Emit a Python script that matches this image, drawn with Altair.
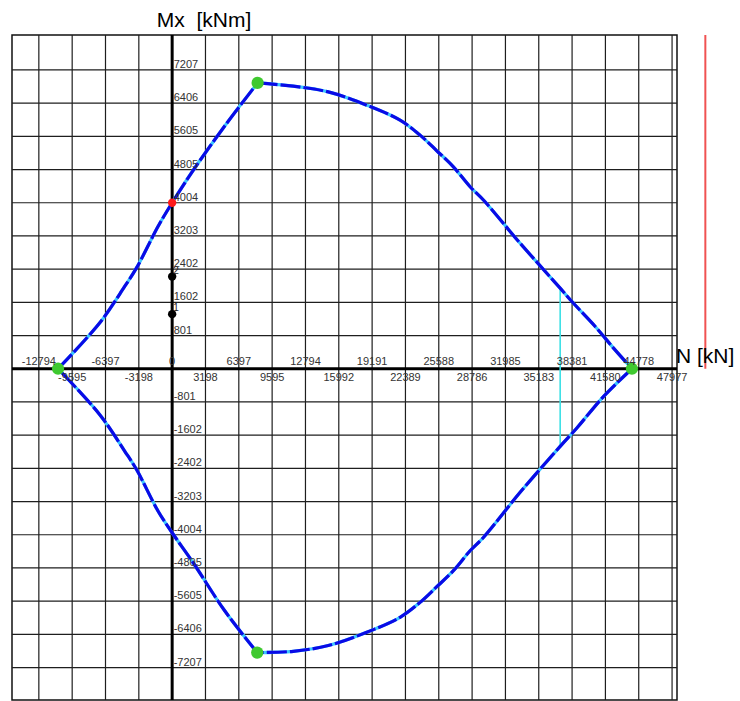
import altair as alt
import pandas as pd

# Interaction diagram N - Mx (N in kN, Mx in kNm)

# Grid / tick values
n_ticks = [-12794, -9595, -6397, -3198, 0, 3198, 6397, 9595, 12794, 15992,
           19191, 22389, 25588, 28786, 31985, 35183, 38381, 41580, 44778, 47977]
n_tick_labels = ["-12794", "-9595", "-6397", "-3198", "0", "3198", "6397", "9595",
                 "12794", "15992", "19191", "22389", "25588", "28786", "31985",
                 "35183", "38381", "41580", "44778", "47977"]
m_ticks = [-7207, -6406, -5605, -4805, -4004, -3203, -2402, -1602, -801,
           801, 1602, 2402, 3203, 4004, 4805, 5605, 6406, 7207]
m_tick_labels = ["-7207", "-6406", "-5605", "-4805", "-4004", "-3203", "-2402",
                 "-1602", "-801", "801", "1602", "2402", "3203", "4004", "4805",
                 "5605", "6406", "7207"]

# Resistance curve, split at its four corner points
# upper-left flank: left apex -> top peak
ul_n = [-10950, -6944, -4543, -3419, -1345, 0, 1921, 5225, 8203]
ul_m = [0, 1108, 1991, 2432, 3436, 4004, 4751, 5917, 6894]
# upper-right: top peak -> right apex
ur_n = [8203, 11622, 14984, 18672, 21871, 23792, 25396, 26990, 28594, 29872,
        33396, 37239, 38362, 40600, 42358, 44126]
ur_m = [6894, 6815, 6677, 6357, 5996, 5635, 5257, 4871, 4390, 4070,
        3027, 1943, 1621, 1019, 498, 0]
# lower-right: right apex -> bottom peak
lr_n = [44126, 41411, 38842, 37239, 33396, 29872, 28594, 26990, 25396, 23792,
        21871, 18672, 14984, 11622, 8164]
lr_m = [0, -667, -1428, -1871, -2980, -4070, -4390, -4871, -5257, -5635,
        -5996, -6357, -6677, -6815, -6846]
# lower-left flank: bottom peak -> left apex
ll_n = [8164, 5062, 2017, 0, -1345, -3419, -4543, -6944, -10950]
ll_m = [-6846, -5844, -4679, -3956, -3436, -2432, -1991, -1108, 0]

# Corner points of the curve
apex_n = [-10950, 8203, 44126, 8164]
apex_m = [0, 6894, 0, -6846]

# Load cases
red_n, red_m = [0], [4004]
case_n = [0, 0]
case_m = [1317, 2223]
case_labels = ["1", "2"]

# Vertical check line and limit line
check_n = [37239]
check_m_lo = [-1890]
check_m_hi = [1943]
limit_n = [51170]
limit_m_lo = [0]
limit_m_hi = [8050]

N_DOMAIN = [-15370, 48450]
M_DOMAIN = [-7990, 8050]

xs = alt.Scale(domain=N_DOMAIN, nice=False, zero=False)
ys = alt.Scale(domain=M_DOMAIN, nice=False, zero=False)

rows = []
for seg, ns, ms in (("ul", ul_n, ul_m), ("ur", ur_n, ur_m),
                    ("lr", lr_n, lr_m), ("ll", ll_n, ll_m)):
    for i, (n, m) in enumerate(zip(ns, ms)):
        rows.append({"seg": seg, "i": i, "N": n, "M": m})
curve = pd.DataFrame(rows)

xt = pd.DataFrame({"N": n_ticks, "label": n_tick_labels,
                   "pos": ["up" if k % 2 == 0 else "down" for k in range(len(n_ticks))]})
yt = pd.DataFrame({"M": m_ticks, "label": m_tick_labels})

grid_v = alt.Chart(pd.DataFrame({"N": n_ticks})).mark_rule(
    color="#1e1e1e", strokeWidth=1.2).encode(x=alt.X("N:Q", scale=xs, axis=None))
grid_h = alt.Chart(pd.DataFrame({"M": m_ticks})).mark_rule(
    color="#1e1e1e", strokeWidth=1.2).encode(y=alt.Y("M:Q", scale=ys, axis=None))

axis_v = alt.Chart(pd.DataFrame({"N": [0]})).mark_rule(
    color="black", strokeWidth=3).encode(x=alt.X("N:Q", scale=xs))
axis_h = alt.Chart(pd.DataFrame({"M": [0]})).mark_rule(
    color="black", strokeWidth=3).encode(y=alt.Y("M:Q", scale=ys))

limit = alt.Chart(pd.DataFrame({"N": limit_n, "lo": limit_m_lo, "hi": limit_m_hi})).mark_rule(
    color="#f05252", strokeWidth=2, clip=False).encode(
    x=alt.X("N:Q", scale=xs), y=alt.Y("lo:Q", scale=ys), y2="hi:Q")

check = alt.Chart(pd.DataFrame({"N": check_n, "lo": check_m_lo, "hi": check_m_hi})).mark_rule(
    color="#3de0e6", strokeWidth=1.6).encode(
    x=alt.X("N:Q", scale=xs), y=alt.Y("lo:Q", scale=ys), y2="hi:Q")

enc = dict(x=alt.X("N:Q", scale=xs), y=alt.Y("M:Q", scale=ys),
           order="i:Q", detail="seg:N")
curve_base = alt.Chart(curve).mark_line(
    color="#3cc8ff", strokeWidth=3.2, interpolate="catmull-rom").encode(**enc)
curve_top = alt.Chart(curve).mark_line(
    color="#0a0ae6", strokeWidth=3.2, strokeDash=[20, 3],
    interpolate="catmull-rom").encode(**enc)

apex = alt.Chart(pd.DataFrame({"N": apex_n, "M": apex_m})).mark_circle(
    color="#3fc92f", size=150, opacity=1).encode(
    x=alt.X("N:Q", scale=xs), y=alt.Y("M:Q", scale=ys))

red_pt = alt.Chart(pd.DataFrame({"N": red_n, "M": red_m})).mark_circle(
    color="#ff1a1a", size=70, opacity=1).encode(
    x=alt.X("N:Q", scale=xs), y=alt.Y("M:Q", scale=ys))

cases = pd.DataFrame({"N": case_n, "M": case_m, "label": case_labels})
case_pts = alt.Chart(cases).mark_circle(color="black", size=70, opacity=1).encode(
    x=alt.X("N:Q", scale=xs), y=alt.Y("M:Q", scale=ys))
case_txt = alt.Chart(cases).mark_text(
    font="Liberation Sans", fontSize=10, color="#222", align="left",
    baseline="alphabetic", dx=1, dy=-3).encode(
    x=alt.X("N:Q", scale=xs), y=alt.Y("M:Q", scale=ys), text="label:N")

lab_font = dict(font="Liberation Sans", fontSize=11, color="#333333")
x_up = alt.Chart(xt).transform_filter(alt.datum.pos == "up").mark_text(
    align="center", baseline="alphabetic", dy=-4, **lab_font).encode(
    x=alt.X("N:Q", scale=xs), y=alt.datum(0, scale=ys), text="label:N")
x_down = alt.Chart(xt).transform_filter(alt.datum.pos == "down").mark_text(
    align="center", baseline="alphabetic", dy=12, **lab_font).encode(
    x=alt.X("N:Q", scale=xs), y=alt.datum(0, scale=ys), text="label:N")
y_lab = alt.Chart(yt).mark_text(
    align="left", baseline="alphabetic", dx=1.5, dy=-2, **lab_font).encode(
    x=alt.datum(0, scale=xs), y=alt.Y("M:Q", scale=ys), text="label:N")

title_m = alt.Chart(pd.DataFrame({"t": ["Mx\u00a0 [kNm]"]})).mark_text(
    font="Liberation Sans", fontSize=21, color="black", align="center",
    baseline="alphabetic").encode(x=alt.value(192), y=alt.value(-8), text="t:N")
title_n = alt.Chart(pd.DataFrame({"t": ["N [kN]"]})).mark_text(
    font="Liberation Sans", fontSize=21, color="black", align="left",
    baseline="alphabetic").encode(x=alt.value(664), y=alt.value(328), text="t:N")

chart = alt.layer(
    grid_v, grid_h, axis_v, axis_h, limit, check, curve_base, curve_top,
    apex, red_pt, case_pts, case_txt, x_up, x_down, y_lab, title_m, title_n,
).properties(
    width=665, height=665,
    autosize=alt.AutoSizeParams(type="none"),
    padding={"left": 12, "top": 35, "right": 63, "bottom": 1},
).configure_view(stroke="#111111", strokeWidth=1.5)

chart.save("out.html", embed_options={"renderer": "svg", "actions": False})
